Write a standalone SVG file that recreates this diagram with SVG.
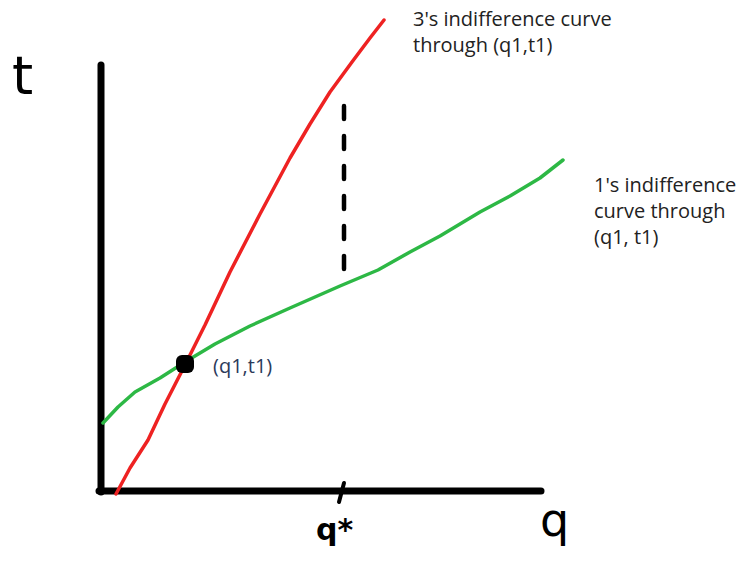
<svg xmlns="http://www.w3.org/2000/svg" width="741" height="561" viewBox="0 0 741 561">
<style>
.lbl{font-family:"Open Sans","Liberation Sans",sans-serif;font-size:20px;fill:#222}
.hand{font-family:"DejaVu Sans","Liberation Sans",sans-serif;fill:#000}
.axis{stroke:#000;stroke-width:7;stroke-linecap:round;fill:none}
</style>
<rect width="741" height="561" fill="#fff"/>
<g id="axes">
<line class="axis" x1="101" y1="65" x2="101" y2="492"/>
<line class="axis" x1="99" y1="491" x2="541" y2="491"/>
<line x1="344" y1="483" x2="339" y2="502" stroke="#000" stroke-width="4" stroke-linecap="round"/>
</g>
<g id="connectors">
<polyline id="red-curve" points="116,494 130,468 148,440 165,404 185,365 205,325 230,272 260,214 290,158 310,124 330,92 352,62 370,38 384,20" fill="none" stroke="#ee2222" stroke-width="3.5" stroke-linejoin="round" stroke-linecap="round"/>
<polyline id="green-curve" points="103,423 118,407 135,392 160,378 185,362 215,344 250,326 290,308 340,286 378,270 410,252 440,236 480,212 510,196 540,178 563,160" fill="none" stroke="#2db845" stroke-width="3.5" stroke-linejoin="round" stroke-linecap="round"/>
<line id="dashed" x1="344" y1="106" x2="344" y2="275" stroke="#000" stroke-width="4.5" stroke-dasharray="13,17" stroke-linecap="round"/>
</g>
<g id="point">
<rect x="176" y="355" width="18" height="18" rx="6" fill="#000"/>
<text class="lbl" x="213" y="373" style="fill:#2b3a5a">(q1,t1)</text>
</g>
<g id="label-3">
<text class="lbl" x="413" y="26">3's indifference curve</text>
<text class="lbl" x="413" y="52">through (q1,t1)</text>
</g>
<g id="label-1">
<text class="lbl" x="594" y="192">1's indifference</text>
<text class="lbl" x="594" y="218">curve through</text>
<text class="lbl" x="594" y="244">(q1, t1)</text>
</g>
<g id="axis-labels">
<text class="hand" x="12" y="94" font-size="54">t</text>
<text class="hand" x="316" y="540" font-size="30" font-weight="bold">q*</text>
<text class="hand" x="540" y="536" font-size="46">q</text>
</g>
</svg>
